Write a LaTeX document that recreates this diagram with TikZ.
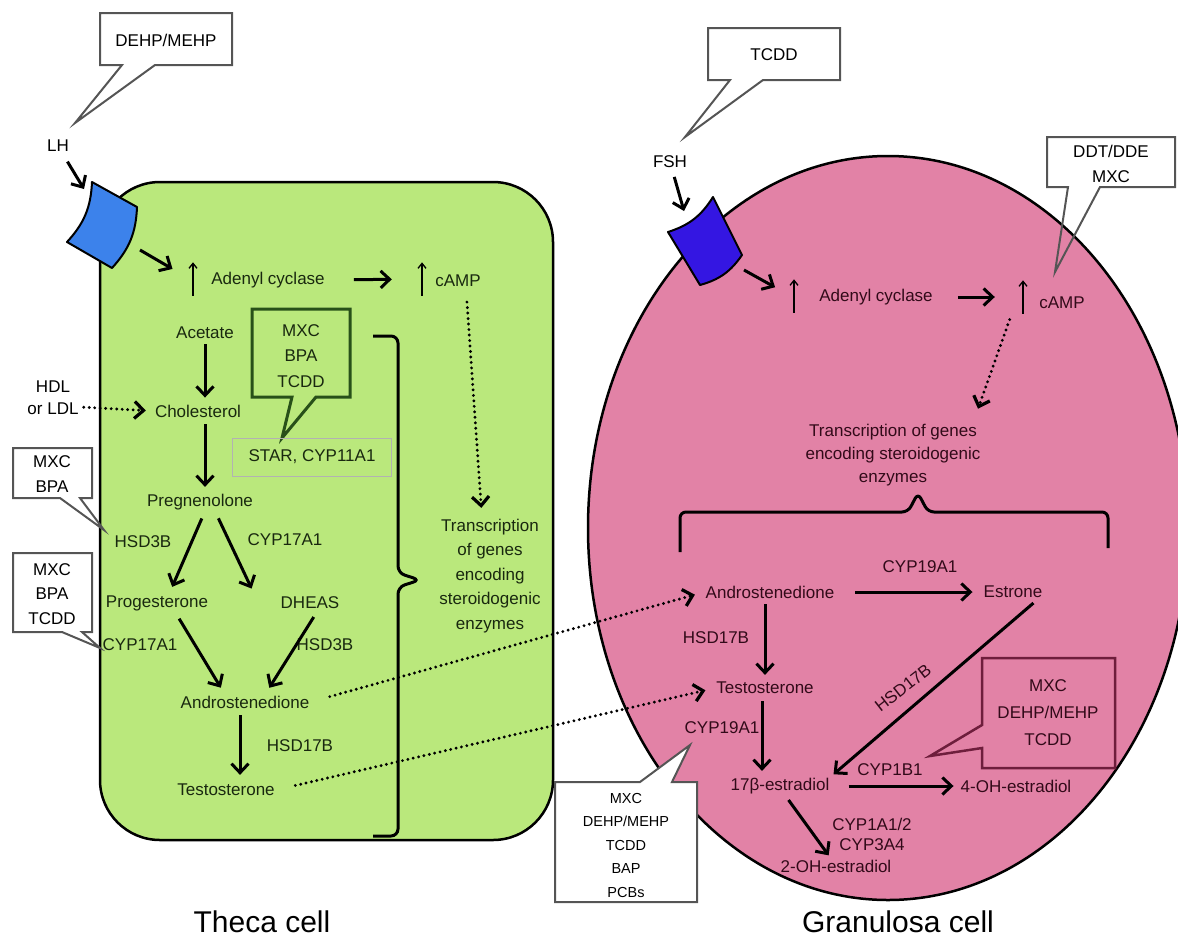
\documentclass[tikz,border=0pt]{standalone}
\usepackage{fontspec}
\setmainfont{Liberation Sans}
\usetikzlibrary{arrows.meta}
\definecolor{thecaG}{RGB}{186,232,124}
\definecolor{granP}{RGB}{226,130,166}
\definecolor{lhblue}{RGB}{60,130,235}
\definecolor{fshblue}{RGB}{52,22,226}
\definecolor{gtxt}{RGB}{25,40,15}
\definecolor{ptxt}{RGB}{50,10,25}
\definecolor{calgray}{RGB}{85,85,85}
\definecolor{calgreen}{RGB}{40,80,25}
\definecolor{calmaroon}{RGB}{110,30,60}
\tikzset{
 txt/.style={inner sep=1pt, font=\fontsize{17}{24.5}\selectfont, align=center},
 big/.style={inner sep=1pt, font=\fontsize{30}{34}\selectfont},
 arr/.style={line width=3pt, -{Straight Barb[length=9pt,width=17pt]}},
 uparr/.style={line width=1.3pt, -{Straight Barb[length=5pt,width=8pt]}},
 upbox/.style={minimum height=33pt, minimum width=6pt, inner sep=0pt},
 dotarr/.style={line width=3.2pt, dash pattern=on 0pt off 5.5pt, line cap=round, -{Straight Barb[length=9pt,width=17pt]}},
 callout/.style={draw=calgray, line width=2pt, line join=miter},
 recep/.style={line width=2pt, line join=round},
}
\begin{document}
\begin{tikzpicture}[x=1pt,y=-1pt]
\useasboundingbox (0,0) rectangle (1178,946);
% cells
\draw[line width=2.5pt, fill=thecaG, rounded corners=60] (100,182) rectangle (553,840);
\draw[line width=2.5pt, fill=granP] (888,528) ellipse [x radius=300, y radius=372];

% receptors
\draw[recep, fill=lhblue] (92,182) -- (137,207) to[bend left=20] (112,268) -- (67,242) to[bend right=20] (92,182) -- cycle;
\draw[recep, fill=fshblue] (713,197) -- (742,255) to[bend left=20] (700,285) -- (668,232) to[bend right=20] (713,197) -- cycle;
\coordinate (lhin) at (84,189);
\coordinate (lhout) at (140,250);
\coordinate (fshin) at (684,211);
\coordinate (fshout) at (744,270);

% ---------- Theca cell ----------
\node[txt] (LH) at (58,146) {LH};
\draw[arr, shorten <=10pt] (LH) -- (lhin);
\node[upbox] (up1) at (193,279) {};
\draw[uparr] (up1.south) -- (up1.north);
\draw[arr, shorten >=20pt] (lhout) -- (up1.west);
\node[txt, text=gtxt] (ac1) at (268,280) {Adenyl cyclase};
\node[upbox] (up2) at (422,279) {};
\draw[uparr] (up2.south) -- (up2.north);
\draw[arr, shorten <=28pt, shorten >=27pt] (ac1.east) -- (up2.west);
\node[txt, text=gtxt] (camp1) at (458,281) {cAMP};
\node[txt, text=gtxt] (trans1) at (490,576) {Transcription\\of genes\\encoding\\steroidogenic\\enzymes};
\draw[dotarr, shorten <=14pt, shorten >=10pt] ([xshift=8pt]camp1.south) -- ([xshift=-8pt]trans1.north);

\node[txt, text=gtxt] (acetate) at (205,333) {Acetate};
\node[txt, text=gtxt] (chol) at (198,411) {Cholesterol};
\draw[arr, shorten <=4pt, shorten >=6pt] (acetate.south) -- (acetate.south |- chol.north);
\node[txt, font=\fontsize{17}{22}\selectfont] (hdl) at (53,398) {HDL\\or LDL};
\draw[dotarr, shorten <=4pt, shorten >=8pt] ([yshift=-9pt]hdl.east) -- (chol.west);
\node[txt, text=gtxt] (preg) at (200,502) {Pregnenolone};
\draw[arr, shorten <=6pt, shorten >=6pt] (acetate.south |- chol.south) -- (acetate.south |- preg.north);
\node[txt, text=gtxt] (hsd3b1) at (143,542) {HSD3B};
\node[txt, text=gtxt] (cyp17a) at (285,540) {CYP17A1};
\node[txt, text=gtxt] (prog) at (157,603) {Progesterone};
\node[txt, text=gtxt] (dheas) at (310,603) {DHEAS};
\draw[arr, shorten <=8pt, shorten >=8pt] ([xshift=5pt]preg.south) -- ([xshift=12pt]prog.north);
\draw[arr, shorten <=8pt, shorten >=8pt] ([xshift=15pt]preg.south) -- ([xshift=-55pt]dheas.north);
\node[txt, text=gtxt] (cyp17b) at (140,645) {CYP17A1};
\node[txt, text=gtxt] (hsd3b2) at (325,645) {HSD3B};
\node[txt, text=gtxt] (andro) at (245,702) {Androstenedione};
\draw[arr, shorten <=8pt, shorten >=8pt] ([xshift=18pt]prog.south) -- ([xshift=-20pt]andro.north);
\draw[arr, shorten <=8pt, shorten >=8pt] ([xshift=8pt]dheas.south) -- ([xshift=20pt]andro.north);
\node[txt, text=gtxt] (hsd17b1) at (300,746) {HSD17B};
\node[txt, text=gtxt] (testo) at (226,790) {Testosterone};
\draw[arr, shorten <=6pt, shorten >=8pt] ([xshift=-5pt]andro.south) -- ([xshift=-5pt]andro.south |- testo.north);

% bracket
\draw[line width=3pt, rounded corners=7pt] (373,336) -- (398,336) -- (398,573) -- (420,580) -- (398,587) -- (398,836) -- (373,836);

% middle callout
\draw[line width=3pt, draw=calgreen, line join=miter] (252,309) -- (350,309) -- (350,397) -- (316,397) -- (282,438) -- (292,397) -- (252,397) -- cycle;
\node[txt, text=gtxt, font=\fontsize{17}{25.5}\selectfont] (cmid) at (301,356) {MXC\\BPA\\TCDD};
\node[draw=gray!60, line width=0.8pt, txt, text=gtxt, minimum width=159pt, minimum height=38pt, inner sep=0pt] (star) at (312,457) {STAR, CYP11A1};

% left callouts
\draw[callout] (100,13) -- (232,13) -- (232,65) -- (155,65) -- (75,123) -- (122,65) -- (100,65) -- cycle;
\node[txt] (dehp) at (166,40) {DEHP/MEHP};
\draw[callout] (13,448) -- (92,448) -- (92,498) -- (80,498) -- (104,530) -- (60,498) -- (13,498) -- cycle;
\node[txt] (cl1) at (52,474) {MXC\\BPA};
\draw[callout] (13,553) -- (92,553) -- (92,632) -- (82,632) -- (100,648) -- (62,632) -- (13,632) -- cycle;
\node[txt] (cl2) at (52,594) {MXC\\BPA\\TCDD};

% ---------- Granulosa cell ----------
\node[txt] (FSH) at (670,162) {FSH};
\draw[arr, shorten <=8pt] (FSH) -- (fshin);
\draw[callout] (708,28) -- (840,28) -- (840,80) -- (763,80) -- (685,137) -- (730,80) -- (708,80) -- cycle;
\node[txt] (tcdd) at (774,55) {TCDD};
\node[upbox] (up3) at (794,296) {};
\draw[uparr] (up3.south) -- (up3.north);
\draw[arr, shorten >=18pt] (fshout) -- (up3.west);
\node[txt, text=ptxt] (ac2) at (876,297) {Adenyl cyclase};
\node[upbox] (up4) at (1023,297) {};
\draw[uparr] (up4.south) -- (up4.north);
\draw[arr, shorten <=24pt, shorten >=25pt] (ac2.east) -- (up4.west);
\node[txt, text=ptxt] (camp2) at (1062,303) {cAMP};
\draw[callout] (1047,137) -- (1175,137) -- (1175,187) -- (1100,187) -- (1055,272) -- (1068,187) -- (1047,187) -- cycle;
\node[txt] (ddt) at (1111,164) {DDT/DDE\\MXC};
\node[txt, text=ptxt, font=\fontsize{17}{23}\selectfont] (trans2) at (893,455) {Transcription of genes\\encoding steroidogenic\\enzymes};
\draw[dotarr, shorten <=10pt, shorten >=15pt] ([xshift=-49pt]camp2.south) -- ([xshift=80pt]trans2.north);
\draw[line width=3pt, rounded corners=6pt] (680,552) -- (680,512) -- (908,512) -- (918,493) -- (928,512) -- (1108,512) -- (1108,548);

\node[txt, text=ptxt] (andro2) at (770,592) {Androstenedione};
\node[txt, text=ptxt] (cyp19a) at (920,567) {CYP19A1};
\node[txt, text=ptxt] (estrone) at (1013,592) {Estrone};
\draw[arr, shorten <=20pt, shorten >=10pt] (andro2.east) -- (estrone.west);
\node[txt, text=ptxt] (hsd17b2) at (716,638) {HSD17B};
\node[txt, text=ptxt] (testo2) at (765,688) {Testosterone};
\draw[arr, shorten <=5pt, shorten >=6pt] ([xshift=-5pt]andro2.south) -- ([xshift=-5pt]andro2.south |- testo2.north);
\node[txt, text=ptxt] (cyp19b) at (722,728) {CYP19A1};
\node[txt, text=ptxt] (e2) at (780,786) {17β-estradiol};
\draw[arr, shorten <=6pt, shorten >=6pt] ([xshift=-3pt]testo2.south) -- ([xshift=-3pt]testo2.south |- e2.north);
\draw[arr, shorten <=6pt, shorten >=4pt] ([xshift=25pt]estrone.south) -- (e2.north east);
\node[txt, text=ptxt, rotate=38] (hsd17b3) at (903,688) {HSD17B};
\node[txt, text=ptxt] (cyp1b1) at (890,770) {CYP1B1};
\node[txt, text=ptxt] (oh4) at (1016,786) {4-OH-estradiol};
\draw[arr, shorten <=18pt, shorten >=6pt] (e2.east) -- (oh4.west);
\node[txt, text=ptxt, font=\fontsize{17}{20}\selectfont] (cyp1a) at (872,834) {CYP1A1/2\\CYP3A4};
\node[txt, text=ptxt] (oh2) at (836,866) {2-OH-estradiol};
\draw[arr, shorten <=6pt, shorten >=4pt] ([xshift=5pt]e2.south) -- ([xshift=-5pt]oh2.north);

\draw[line width=2.5pt, draw=calmaroon, line join=miter] (982,658) -- (1115,658) -- (1115,768) -- (982,768) -- (982,748) -- (930,756) -- (982,725) -- cycle;
\node[txt, text=ptxt, font=\fontsize{17}{27}\selectfont] (cpink) at (1048,713) {MXC\\DEHP/MEHP\\TCDD};
\draw[callout, fill=white] (555,782) -- (640,782) -- (690,745) -- (672,782) -- (697,782) -- (697,902) -- (555,902) -- cycle;
\node[txt, font=\fontsize{14.5}{23.5}\selectfont] (cbot) at (626,845) {MXC\\DEHP/MEHP\\TCDD\\BAP\\PCBs};

% cross-cell dotted arrows
\draw[dotarr, shorten <=20pt, shorten >=10pt] (andro.east) -- (andro2.west);
\draw[dotarr, shorten <=20pt, shorten >=10pt] (testo.east) -- (testo2.west);

\node[big] (theca) at (262,922) {Theca cell};
\node[big] (gran) at (898,922) {Granulosa cell};
\end{tikzpicture}
\end{document}
